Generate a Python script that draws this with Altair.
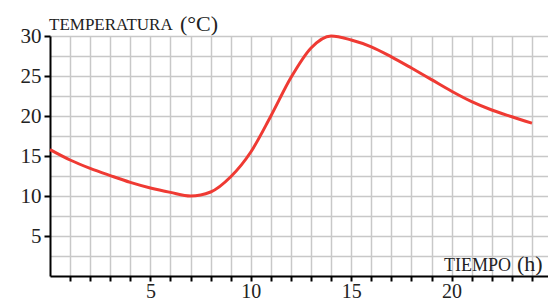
import altair as alt
import pandas as pd

hours = list(range(0, 25))
temps = [15.8, 14.5, 13.45, 12.55, 11.7, 11.0, 10.45, 10.0, 10.5, 12.4,
         15.5, 20.0, 24.8, 28.5, 30.0, 29.5, 28.65, 27.4, 26.0, 24.55,
         23.1, 21.8, 20.75, 19.9, 19.1]

x_grid = list(range(1, 25))
y_grid = [2.5 * i for i in range(1, 13)]
y_title = ["TEMPERATURA", "(°C)"]
x_title = ["TIEMPO", "(h)"]

FONT = "Liberation Serif"
df = pd.DataFrame({"h": hours, "t": temps})

W, H = 498, 240

line = alt.Chart(df).mark_line(
    color="#ef3a33", strokeWidth=3, interpolate="monotone"
).encode(
    x=alt.X("h:Q", scale=alt.Scale(domain=[0, 24.8], nice=False, zero=False),
            axis=alt.Axis(values=x_grid, title=None, grid=True,
                          gridColor="#c8c8c8", gridWidth=1.5,
                          domainColor="black", domainWidth=2,
                          tickSize=5, tickWidth=2, tickColor="black",
                          labelExpr="datum.value % 5 === 0 ? datum.label : ''",
                          labelFont=FONT, labelFontSize=20, labelColor="#222",
                          labelPadding=0, labelFlush=False)),
    y=alt.Y("t:Q", scale=alt.Scale(domain=[0, 30], nice=False),
            axis=alt.Axis(values=y_grid, title=None, grid=True,
                          gridColor="#c8c8c8", gridWidth=1.5,
                          domainColor="black", domainWidth=2,
                          tickSize=6, tickWidth=2,
                          tickColor={"condition": {"test": "datum.value % 5 === 0", "value": "black"}, "value": "transparent"},
                          labelExpr="datum.value % 5 === 0 ? datum.label : ''",
                          labelFont=FONT, labelFontSize=21, labelColor="#222",
                          labelPadding=3, labelFlush=False)),
)

def txt(s, x, y, size):
    return alt.Chart(pd.DataFrame({"s": [s]})).mark_text(
        font=FONT, fontSize=size, align="left", baseline="alphabetic",
        color="#222"
    ).encode(x=alt.value(x), y=alt.value(y), text="s:N")

chart = alt.layer(
    line,
    txt(y_title[0], -1, -6, 17),
    txt(y_title[1], 130, -5.5, 22),
    txt(x_title[0], 394, H - 5, 18),
    txt(x_title[1], 467, H - 5, 22),
).properties(
    width=W, height=H,
    autosize=alt.AutoSizeParams(type="none"),
    padding={"left": 42, "top": 28, "right": 0, "bottom": 24},
).configure_view(stroke=None)

chart.save("out.html", embed_options={"renderer": "svg", "actions": False})
